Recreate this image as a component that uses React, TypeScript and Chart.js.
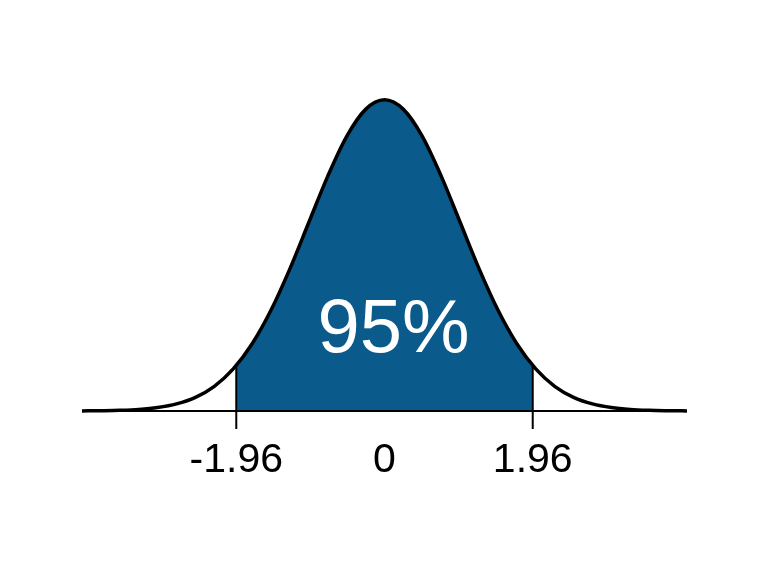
import React, { useEffect, useRef } from "react";
import { Chart, registerables } from "chart.js";
Chart.register(...registerables);

// Standard normal curve heights
const curveX = [-4, -3.75, -3.5, -3.25, -3, -2.75, -2.5, -2.25, -2, -1.75, -1.5, -1.25, -1, -0.75, -0.5, -0.25, 0, 0.25, 0.5, 0.75, 1, 1.25, 1.5, 1.75, 2, 2.25, 2.5, 2.75, 3, 3.25, 3.5, 3.75, 4];
const curveY = [0.0001, 0.0004, 0.0009, 0.002, 0.0044, 0.0091, 0.0175, 0.0317, 0.054, 0.0863, 0.1295, 0.1826, 0.242, 0.3011, 0.3521, 0.3867, 0.3989, 0.3867, 0.3521, 0.3011, 0.242, 0.1826, 0.1295, 0.0863, 0.054, 0.0317, 0.0175, 0.0091, 0.0044, 0.002, 0.0009, 0.0004, 0.0001];
const areaX = [-1.96, -1.75, -1.5, -1.25, -1, -0.75, -0.5, -0.25, 0, 0.25, 0.5, 0.75, 1, 1.25, 1.5, 1.75, 1.96];
const areaY = [0.0584, 0.0863, 0.1295, 0.1826, 0.242, 0.3011, 0.3521, 0.3867, 0.3989, 0.3867, 0.3521, 0.3011, 0.242, 0.1826, 0.1295, 0.0863, 0.0584];
const tickValues = [-1.96, 0, 1.96];
const tickLabels = ["-1.96", "0", "1.96"];
const cutoffX = [-1.96, 1.96];
const cutoffTop = [0.0584, 0.0584];
const cutoffBottom = -0.023;
const areaLabel = "95%";
const areaLabelX = 0.12;
const areaLabelY = 0.103;

const BLUE = "#0b5a8c";

export default function App() {
  const ref = useRef<HTMLCanvasElement | null>(null);
  useEffect(() => {
    if (!ref.current) return;
    const textPlugin = {
      id: "areaText",
      afterDatasetsDraw(chart: any) {
        const { ctx, scales } = chart;
        const px = scales.x.getPixelForValue(areaLabelX);
        const py = scales.y.getPixelForValue(areaLabelY);
        ctx.save();
        ctx.fillStyle = "#ffffff";
        ctx.font = '76px "Liberation Sans", Arial, sans-serif';
        ctx.textAlign = "center";
        ctx.textBaseline = "middle";
        ctx.fillText(areaLabel, px, py);
        ctx.restore();
      },
    };
    const cutoffSets = cutoffX.map((x, i) => ({
      data: [
        { x, y: cutoffTop[i] },
        { x, y: cutoffBottom },
      ],
      borderColor: "#000",
      borderWidth: 2,
      pointRadius: 0,
      fill: false,
      order: 1,
      clip: false as any,
    }));
    const chart = new Chart(ref.current, {
      type: "line",
      data: {
        datasets: [
          {
            data: areaX.map((x, i) => ({ x, y: areaY[i] })),
            borderWidth: 0,
            borderColor: BLUE,
            backgroundColor: BLUE,
            fill: "origin",
            pointRadius: 0,
            cubicInterpolationMode: "monotone",
            order: 5,
            clip: false as any,
          },
          {
            data: [
              { x: curveX[0], y: 0 },
              { x: curveX[curveX.length - 1], y: 0 },
            ],
            borderColor: "#000",
            borderWidth: 2,
            pointRadius: 0,
            fill: false,
            order: 2,
            clip: false as any,
          },
          ...cutoffSets,
          {
            data: curveX.map((x, i) => ({ x, y: curveY[i] })),
            borderColor: "#000",
            borderWidth: 3.5,
            pointRadius: 0,
            fill: false,
            cubicInterpolationMode: "monotone",
            order: 0,
            clip: false as any,
          },
        ] as any,
      },
      options: {
        animation: false,
        responsive: true,
        maintainAspectRatio: false,
        layout: { padding: { left: 82, right: 81, top: 99, bottom: 85 } },
        plugins: { legend: { display: false }, tooltip: { enabled: false } },
        scales: {
          x: {
            type: "linear",
            min: -4,
            max: 4,
            border: { display: false },
            grid: { display: false, drawTicks: false },
            afterBuildTicks: (axis: any) => {
              axis.ticks = tickValues.map((v) => ({ value: v }));
            },
            afterFit: (scale: any) => {
              scale.height = 80;
            },
            ticks: {
              autoSkip: false,
              maxRotation: 0,
              padding: 25,
              color: "#000",
              font: { family: '"Liberation Sans", Arial, sans-serif', size: 41 },
              callback: (v: any) => {
                const idx = tickValues.indexOf(Number(v));
                return idx >= 0 ? tickLabels[idx] : "";
              },
            },
          },
          y: { display: false, min: 0, max: 0.4 },
        },
      },
      plugins: [textPlugin],
    });
    return () => chart.destroy();
  }, []);
  return (
    <div style={{ position: "absolute", left: 0, top: 0, width: 768, height: 576, background: "#fff" }}>
      <canvas ref={ref} />
    </div>
  );
}
